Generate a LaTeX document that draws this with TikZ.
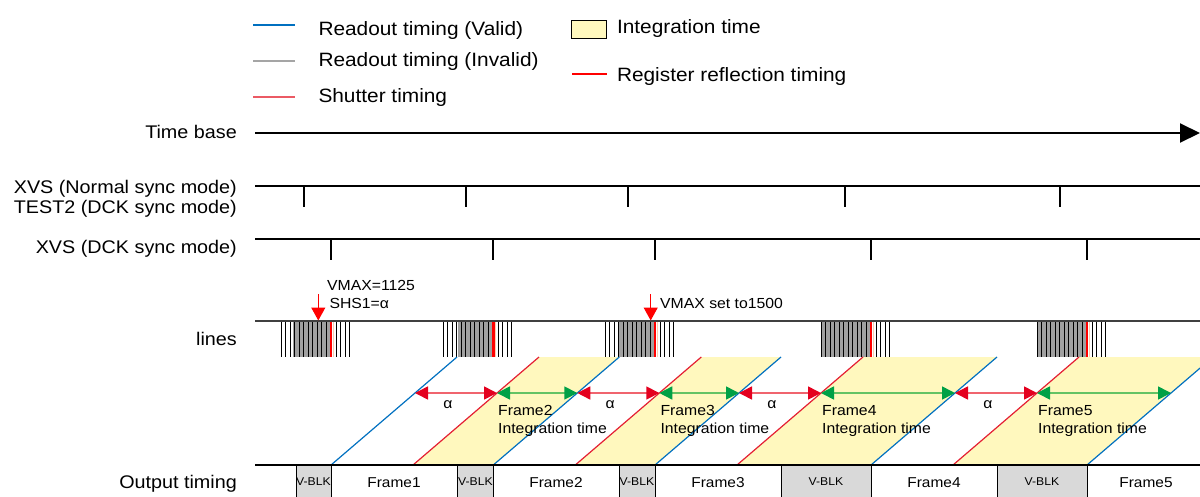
\documentclass[tikz,border=0pt]{standalone}
\usepackage{fontspec}
\setmainfont{Liberation Sans}[FakeStretch=1.08]
\usetikzlibrary{arrows.meta,calc}
\definecolor{cblue}{RGB}{0,112,192}
\definecolor{legGray}{RGB}{165,165,165}
\definecolor{cshut}{RGB}{228,30,50}
\definecolor{legShut}{RGB}{235,90,100}
\definecolor{cyel}{RGB}{255,248,190}
\definecolor{creg}{RGB}{255,0,0}
\definecolor{carrl}{RGB}{240,100,110}
\definecolor{carrh}{RGB}{228,0,30}
\definecolor{cgrl}{RGB}{100,195,100}
\definecolor{cgrh}{RGB}{0,160,70}
\definecolor{cvblk}{RGB}{217,217,217}
\definecolor{cbar}{RGB}{160,160,160}
\definecolor{cpeach}{RGB}{250,205,175}
\begin{document}
\begin{tikzpicture}[x=1pt,y=-1pt,
  lbl/.style={font=\fontsize{18.3}{20}\selectfont, inner sep=0pt, anchor=base east},
  leg/.style={font=\fontsize{19.3}{22}\selectfont, inner sep=0pt, anchor=base west},
  sm/.style={font=\fontsize{14.6}{17.8}\selectfont, inner sep=0pt},
  fr/.style={font=\fontsize{14.3}{16}\selectfont, inner sep=0pt, anchor=base},
  vb/.style={font=\fontsize{11.3}{12}\selectfont, inner sep=0pt, anchor=base},
  sig/.style={line width=2pt, black},
  bl/.style={draw=cblue, line width=1.2pt},
  rd/.style={draw=cshut, line width=1.2pt},
  leggray/.style={draw=legGray, line width=1.6pt},
  legshut/.style={draw=legShut, line width=1.8pt},
  ra/.style={carrl, line width=1.6pt, {Triangle[length=13pt,width=13pt,color=carrh]}-{Triangle[length=13pt,width=13pt,color=carrh]}},
  ga/.style={cgrl, line width=1.6pt, {Triangle[length=13pt,width=13pt,color=cgrh]}-{Triangle[length=13pt,width=13pt,color=cgrh]}},
  regmark/.style={creg, line width=1.2pt, -{Triangle[length=13pt,width=14pt]}},
  bar/.style={black, line width=0.9pt},
  vblkbox/.style={fill=cvblk, draw=black, line width=0.9pt}]
\useasboundingbox (0,0) rectangle (1200,496);
\begin{scope}
\clip (0,0) rectangle (1200,496);
% ---------- legend ----------
\coordinate (l1a) at (253,25); \coordinate (l1b) at (295,25);
\draw[bl] (l1a) -- (l1b);
\node[leg] (t1) at (318.3,35) {Readout timing (Valid)};
\coordinate (l2a) at (253,61); \coordinate (l2b) at (295,61);
\draw[leggray] (l2a) -- (l2b);
\node[leg] (t2) at (318.3,66.7) {Readout timing (Invalid)};
\coordinate (l3a) at (253,97); \coordinate (l3b) at (295,97);
\draw[legshut] (l3a) -- (l3b);
\node[leg] (t3) at (318.3,102.3) {Shutter timing};
\node[fill=cyel, draw=black, line width=0.8pt, minimum width=35.5pt, minimum height=17.6pt, inner sep=0pt] (ybox) at (588.7,29.5) {};
\node[leg] (t4) at (616.8,33.5) {Integration time};
\coordinate (l5a) at (572,74); \coordinate (l5b) at (606.5,74);
\draw[creg, line width=2.4pt] (l5a) -- (l5b);
\node[leg] (t5) at (616.8,81) {Register reflection timing};
% ---------- left labels ----------
\node[lbl] (ltb) at (237,138.5) {Time base};
\node[lbl] (lxn) at (237,193.2) {XVS (Normal sync mode)};
\node[lbl] (lt2) at (237,213.8) {TEST2 (DCK sync mode)};
\node[lbl] (lxd) at (237,253.2) {XVS (DCK sync mode)};
\node[lbl] (lln) at (237,345) {lines};
\node[lbl] (lout) at (237,488.3) {Output timing};
% ---------- time base ----------
\coordinate (tbs) at (255,133); \coordinate (tbe) at (1200,133);
\draw[line width=2pt, -{Triangle[length=20pt,width=19pt]}] (tbs) -- (tbe);
% ---------- XVS normal ----------
\coordinate (xns) at (255,186); \coordinate (xne) at (1200,186);
\draw[sig] (xns) -- (xne);
\foreach \t in {304,466,628,845,1060} \draw[sig] (\t,186) -- (\t,207);
% ---------- XVS DCK ----------
\coordinate (xds) at (255,239); \coordinate (xde) at (1200,239);
\draw[sig] (xds) -- (xde);
\foreach \t in {331,493.3,655,871,1087} \draw[sig] (\t,239) -- (\t,260);
% ---------- lines ----------
\foreach \r/\g in {331/293, 493.3/458, 655/618, 871/821, 1087/1037} {
  \fill[cbar] (\g,322) rectangle (\r,357);
  \foreach \k in {0,...,10} \draw[bar] ({\r-50+4.5*\k},322) -- ++(0,35);
  \foreach \k in {1,...,4} \draw[bar] ({\r+0.5+4.5*\k},322) -- ++(0,35);
  \draw[cpeach, line width=1pt] ({\r+2.3},322) -- ++(0,35);
  \draw[creg, line width=2.4pt] (\r,322) -- ++(0,35);
}
\coordinate (lns) at (255,321); \coordinate (lne) at (1200,321);
\draw[black!75, line width=1.8pt] (lns) -- (lne);
% register markers
\coordinate (m1a) at (318.3,294); \coordinate (m1b) at (318.3,320.5);
\draw[regmark] (m1a) -- (m1b);
\node[sm, anchor=base west] (vm1) at (327,290.2) {VMAX=1125};
\node[sm, anchor=base west] (sh1) at (329.3,308.5) {SHS1=α};
\coordinate (m2a) at (650.7,294); \coordinate (m2b) at (650.7,320.5);
\draw[regmark] (m2a) -- (m2b);
\node[sm, anchor=base west] (vm2) at (660,308.5) {VMAX set to1500};
% ---------- diagonals ----------
\foreach \k/\b in {1/331,2/493.3,3/655,4/871,5/1087} {
  \coordinate (B\k) at (\b,465);
  \coordinate (BT\k) at ({\b+126},357);
  \coordinate (BA\k) at ({\b+84},393);
}
\foreach \k/\s in {1/413,2/575.3,3/737,4/953} {
  \coordinate (S\k) at (\s,465);
  \coordinate (ST\k) at ({\s+126},357);
  \coordinate (SA\k) at ({\s+84},393);
}
\foreach \k/\n in {1/2,2/3,3/4,4/5}
  \fill[cyel] (S\k) -- (ST\k) -- (BT\n) -- (B\n) -- cycle;
\foreach \k in {1,...,5} \draw[bl] (B\k) -- (BT\k);
\foreach \k in {1,...,4} \draw[rd] (S\k) -- (ST\k);
\foreach \k/\n in {1/2,2/3,3/4,4/5} {
  \draw[ra] (BA\k) -- (SA\k);
  \draw[ga] (SA\k) -- (BA\n);
  \node[sm, anchor=base] (al\k) at ($(BA\k)!0.5!(SA\k)+(-8,15.5)$) {α};
  \node[sm, anchor=base west] (fa\n) at ($(SA\k)+(1,22.7)$) {Frame\n};
  \node[sm, anchor=base west] (fb\n) at ($(SA\k)+(1,40.5)$) {Integration time};
}
% ---------- output timing ----------
\coordinate (os) at (255,465); \coordinate (oe) at (1200,465);
\foreach \a/\b in {296/331, 457.7/493.3, 619/655, 781/871, 997/1087}
  \filldraw[vblkbox] (\a,465) rectangle (\b,500);
\draw[black, line width=1.2pt] (os) -- (oe);
\foreach \c [count=\i] in {313.5, 475.5, 637, 826, 1042}
  \node[vb] (vb\i) at (\c,485.7) {V-BLK};
\foreach \c [count=\i] in {394, 556, 718, 934, 1146}
  \node[fr] (of\i) at (\c,487) {Frame\i};
\end{scope}
\end{tikzpicture}
\end{document}
